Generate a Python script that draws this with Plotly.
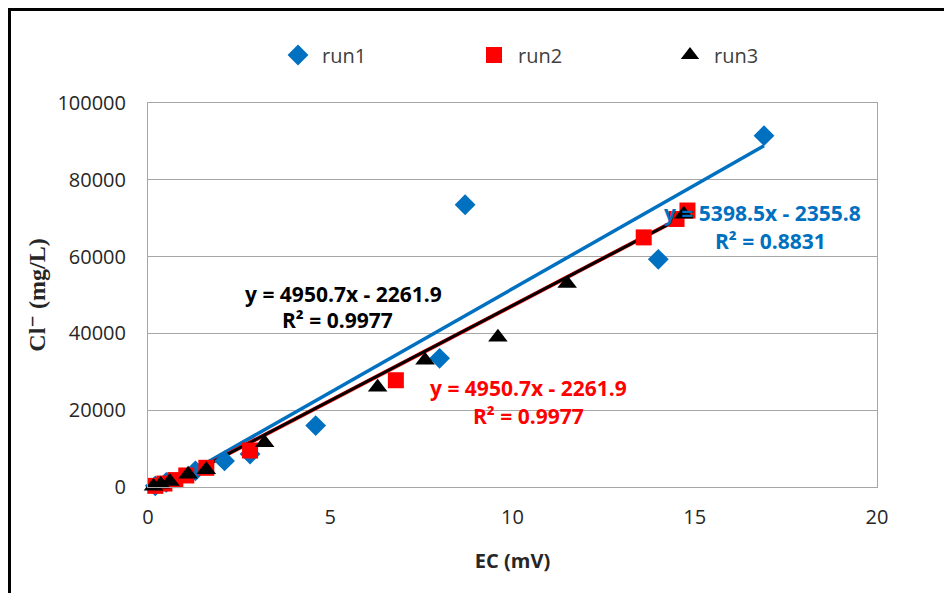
import plotly.graph_objects as go

# ---- data ----
run1_x = [0.2, 0.5, 1.3, 2.1, 2.8, 4.6, 8.0, 8.7, 14.0, 16.9]
run1_y = [300, 1200, 4200, 6800, 8600, 16000, 33500, 73500, 59300, 91500]
run2_x = [0.2, 0.45, 0.75, 1.05, 1.6, 2.8, 6.8, 13.6, 14.5, 14.8]
run2_y = [300, 900, 1800, 3000, 5000, 9500, 27800, 65000, 69800, 72000]
run3_x = [0.15, 0.35, 0.6, 1.1, 1.6, 3.2, 6.3, 7.6, 9.6, 11.5, 14.7]
run3_y = [200, 700, 1400, 3300, 4500, 11500, 26000, 33000, 39000, 53000, 71000]

fit1 = (5398.5, -2355.8, 0.8831)
fit2 = (4950.7, -2261.9, 0.9977)
fit3 = (4950.7, -2261.9, 0.9977)

BLUE = "#0070C0"
RED = "#FF0000"
BLACK = "#000000"
FONT = "Open Sans, Liberation Sans, sans-serif"
BFONT = "Open Sans, Liberation Sans, sans-serif"

# page offset of the figure (browser body margin)
OFF = 8
PL, PT, PW, PH = 148, 103, 729, 384  # plot area in page pixels


def px2paper(px, py):
    return (px - PL) / PW, (PT + PH - py) / PH


fig = go.Figure()


def trend(xs, fit, color, width):
    x0, x1 = min(xs), max(xs)
    m, b, _ = fit
    fig.add_trace(go.Scatter(x=[x0, x1], y=[m * x0 + b, m * x1 + b], mode="lines",
                             line=dict(color=color, width=width), showlegend=False,
                             hoverinfo="skip"))


trend(run1_x, fit1, BLUE, 3.5)
trend(run2_x, fit2, RED, 4)
trend(run3_x, fit3, BLACK, 3)

fig.add_trace(go.Scatter(x=run1_x, y=run1_y, mode="markers", name="run1",
                         marker=dict(symbol="diamond", size=16, color=BLUE), cliponaxis=False))
fig.add_trace(go.Scatter(x=run2_x, y=run2_y, mode="markers", name="run2",
                         marker=dict(symbol="square", size=16, color=RED), cliponaxis=False))
fig.add_trace(go.Scatter(x=run3_x, y=run3_y, mode="markers", name="run3",
                         marker=dict(symbol="triangle-up", size=17, color=BLACK), cliponaxis=False))


def eq_text(fit):
    m, b, r2 = fit
    sign = "-" if b < 0 else "+"
    return f"y = {m}x {sign} {abs(b)}", f"R² = {r2}"


annots = []
for fit, color, (ex, ey), (rx, ry) in [
    (fit3, BLACK, (343, 294), (337, 320)),
    (fit2, RED, (528, 388), (528, 416)),
    (fit1, BLUE, (762, 213), (770, 241)),
]:
    t1, t2 = eq_text(fit)
    for txt, (px, py) in [(t1, (ex, ey)), (t2, (rx, ry))]:
        ax_, ay_ = px2paper(px, py)
        annots.append(dict(text=f"<b>{txt}</b>", x=ax_, y=ay_,
                           xref="paper", yref="paper", showarrow=False,
                           xanchor="center", yanchor="middle",
                           font=dict(family=BFONT, size=21, color=color)))

lx, ly = px2paper(274, 55)
fx0, fy1 = px2paper(OFF + 1.5, OFF + 1.5)
fx1, fy0 = px2paper(1000, 650)

fig.update_layout(
    width=952, height=593,
    margin=dict(l=PL - OFF, r=952 - (PL - OFF) - PW, t=PT - OFF, b=593 - (PT - OFF) - PH,
                autoexpand=False),
    paper_bgcolor="white", plot_bgcolor="white",
    showlegend=True,
    legend=dict(orientation="h", x=lx, y=ly, xanchor="left", yanchor="middle",
                font=dict(family=FONT, size=20, color="#404040"),
                itemwidth=38, traceorder="normal", entrywidth=143, entrywidthmode="pixels"),
    xaxis=dict(range=[0, 20], tickvals=[0, 5, 10, 15, 20], showgrid=False, zeroline=False,
               showline=True, linecolor="#a6a6a6", linewidth=1, mirror=True,
               ticks="", ticklabelstandoff=12,
               tickfont=dict(family=FONT, size=20, color="#262626"),
               title=dict(text="<b>EC (mV)</b>", font=dict(family=FONT, size=20, color="#262626"),
                          standoff=24)),
    yaxis=dict(range=[0, 100000], tickvals=[0, 20000, 40000, 60000, 80000, 100000],
               ticktext=["0", "20000", "40000", "60000", "80000", "100000"],
               showgrid=True, gridcolor="#a6a6a6", gridwidth=1, zeroline=False,
               showline=True, linecolor="#a6a6a6", linewidth=1, mirror=True,
               ticks="", ticklabelstandoff=17,
               tickfont=dict(family=FONT, size=20, color="#262626"),
               title=dict(text="<b>Cl⁻ (mg/L)</b>",
                          font=dict(family="Liberation Serif, DejaVu Serif, serif", size=24,
                                    color="#262626"), standoff=4)),
    annotations=annots,
    shapes=[dict(type="rect", xref="paper", yref="paper",
                 x0=fx0, x1=fx1, y0=fy0, y1=fy1,
                 line=dict(color="black", width=3), layer="above")],
)

fig.write_html("out.html")
